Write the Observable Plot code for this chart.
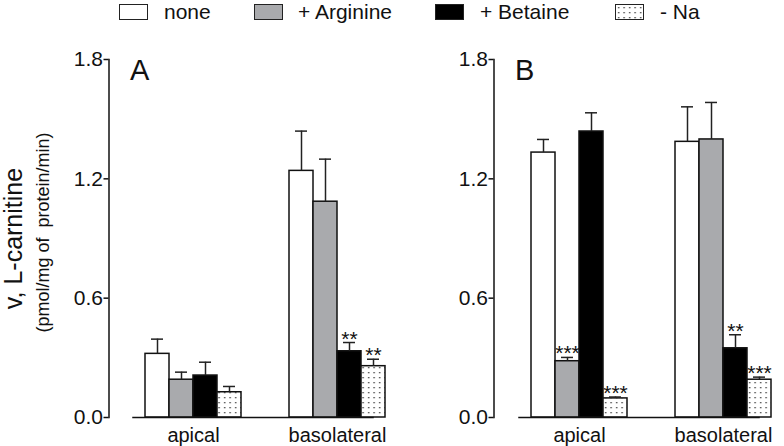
<!DOCTYPE html>
<html><head><meta charset="utf-8">
<script src="https://cdn.jsdelivr.net/npm/d3@7"></script>
<script src="https://cdn.jsdelivr.net/npm/@observablehq/plot@0.6"></script>
<style>
body{margin:0;background:white;font-family:"Liberation Sans",Arial,sans-serif;}
#wrap{position:relative;width:784px;height:446px;overflow:hidden;background:white;}
.legtext{position:absolute;top:0px;font-size:21px;line-height:24px;color:#111;white-space:nowrap;}
.box{position:absolute;top:4px;width:27px;height:14px;border:1.5px solid #222;}
.panel{position:absolute;top:30px;}
</style></head><body>
<svg width="0" height="0" style="position:absolute"><defs>
<pattern id="dots" patternUnits="userSpaceOnUse" width="5.5" height="5">
<rect width="5.5" height="5" fill="white"/><rect x="2" y="2" width="1.3" height="1.3" fill="#333"/>
</pattern></defs></svg>
<div id="wrap"></div>
<script>
const groups = ["apical", "basolateral"];
const conditions = ["none", "+ Arginine", "+ Betaine", "- Na"];
const fills = ["white", "#a9aaad", "black", "url(#dots)"];
const yTicks = [0, 0.6, 1.2, 1.8];

// Panel A
const aApicalMean = [0.32, 0.19, 0.211, 0.127];
const aApicalSem  = [0.074, 0.038, 0.067, 0.029];
const aApicalSig  = ["", "", "", ""];
const aBasoMean   = [1.24, 1.085, 0.333, 0.258];
const aBasoSem    = [0.20, 0.214, 0.044, 0.035];
const aBasoSig    = ["", "", "**", "**"];
// Panel B
const bApicalMean = [1.332, 0.283, 1.438, 0.096];
const bApicalSem  = [0.066, 0.019, 0.094, 0.007];
const bApicalSig  = ["", "***", "", "***"];
const bBasoMean   = [1.386, 1.398, 0.348, 0.19];
const bBasoSem    = [0.176, 0.186, 0.068, 0.013];
const bBasoSig    = ["", "", "**", "***"];

function rows(apM, apS, apSig, baM, baS, baSig) {
  const out = [];
  conditions.forEach((c, i) => out.push({group: "apical", cond: c, mean: apM[i], sem: apS[i], sig: apSig[i]}));
  conditions.forEach((c, i) => out.push({group: "basolateral", cond: c, mean: baM[i], sem: baS[i], sig: baSig[i]}));
  return out;
}
const dataA = rows(aApicalMean, aApicalSem, aApicalSig, aBasoMean, aBasoSem, aBasoSig);
const dataB = rows(bApicalMean, bApicalSem, bApicalSig, bBasoMean, bBasoSem, bBasoSig);

const wrap = document.getElementById("wrap");

// legend
const legBoxLeft = [119, 254, 435, 615];
const legTextLeft = [164, 298, 480, 660];
conditions.forEach((c, i) => {
  const b = document.createElement("div");
  b.className = "box";
  b.style.left = legBoxLeft[i] + "px";
  b.style.background = fills[i];
  if (i === 3) {
    b.innerHTML = '<svg width="27" height="14" style="display:block"><rect width="27" height="14" fill="url(#dots)"/></svg>';
  }
  wrap.appendChild(b);
  const t = document.createElement("div");
  t.className = "legtext";
  t.style.left = legTextLeft[i] + "px";
  t.textContent = c;
  wrap.appendChild(t);
});

function panel(label, data, opts) {
  const top = d => d.mean + d.sem;
  const s = opts.superShift; // super-facet marks are drawn relative to the first facet
  const marks = [
    Plot.barY(data, {fx: "group", x: "cond", y: "mean", fill: "cond", stroke: "#111", strokeWidth: 1.5}),
    Plot.ruleX(data, {fx: "group", x: "cond", y1: "mean", y2: top, stroke: "#222", strokeWidth: 1.5}),
    Plot.tickY(data, {fx: "group", x: "cond", y: top, insetLeft: 6, insetRight: 6, stroke: "#222", strokeWidth: 1.5}),
    Plot.text(data.filter(d => d.sig), {fx: "group", x: "cond", y: top, text: "sig", lineAnchor: "bottom", dy: 3, fontSize: 21, fill: "#111"}),
    Plot.frame({facet: "super", anchor: "bottom", dx: s, stroke: "#111", strokeWidth: 1.5}),
    Plot.frame({facet: "super", anchor: "left", dx: opts.frameDx + s, stroke: "#111", strokeWidth: 1.5}),
    Plot.axisY(yTicks, {tickFormat: ".1f", tickSize: 5, tickPadding: 1, dx: opts.axisDx, fontSize: 21, stroke: "#111", strokeWidth: 1.5, fill: "#111", label: null}),
    Plot.axisFx({anchor: "bottom", tickSize: 0, tickPadding: 10, fontSize: 20, fill: "#111", label: null}),
    Plot.text([label], {facet: "super", frameAnchor: "top-left", lineAnchor: "bottom", textAnchor: "start", dx: opts.labelDx + s, dy: 20, fontSize: 29, fill: "#111"})
  ];
  if (opts.titles) {
    marks.push(
      Plot.text(["v, L-carnitine"], {facet: "super", frameAnchor: "left", rotate: -90, textAnchor: "middle", lineAnchor: "bottom", dx: 21 - opts.marginLeft + s, dy: 0, fontSize: 25, fill: "#111"}),
      Plot.text(["(pmol/mg of  protein/min)"], {facet: "super", frameAnchor: "left", rotate: -90, textAnchor: "middle", lineAnchor: "bottom", dx: 48 - opts.marginLeft + s, dy: -6, fontSize: 18, fill: "#111"})
    );
  }
  const svg = Plot.plot({
    width: opts.width,
    height: 416,
    marginTop: 29,
    marginBottom: 29,
    marginLeft: opts.marginLeft,
    marginRight: opts.marginRight,
    style: {background: "transparent", fontFamily: "'Liberation Sans', Arial, sans-serif", fontSize: "20px", overflow: "visible", color: "#111"},
    fx: {domain: groups, paddingInner: 1 / 3, paddingOuter: 0.0868, label: null, axis: null},
    x: {domain: conditions, padding: 0, axis: null},
    y: {domain: [0, 1.8], axis: null},
    color: {domain: conditions, range: fills},
    marks
  });
  svg.classList.add("panel");
  svg.style.left = opts.left + "px";
  svg.style.position = "absolute";
  svg.style.top = "30px";
  svg.style.maxWidth = "none";
  wrap.appendChild(svg);
}

panel("A", dataA, {left: 0, width: 400, marginLeft: 132, marginRight: 3, axisDx: -36.5, frameDx: -24, labelDx: -3, superShift: -12.5, titles: true});
panel("B", dataB, {left: 392, width: 392, marginLeft: 126, marginRight: 1, axisDx: -37.5, frameDx: -25, labelDx: -4, superShift: -12.5, titles: false});
</script>
</body></html>
